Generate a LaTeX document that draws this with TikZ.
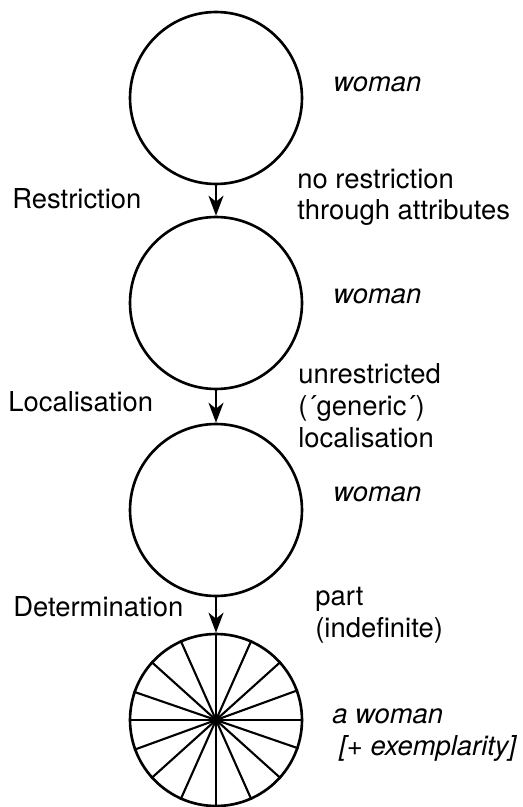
\documentclass[tikz,border=0pt]{standalone}
\usepackage{fontspec}
\setmainfont{TeX Gyre Heros}
\usetikzlibrary{arrows.meta}

\begin{document}
\begin{tikzpicture}[x=0.02cm,y=-0.02cm,
    set/.style={draw, circle, line width=1.5pt, minimum size=3.44cm, inner sep=0pt},
    lbl/.style={anchor=base west, inner sep=0pt, align=left,
      font=\fontsize{15.6}{18.2}\selectfont},
    itlbl/.style={lbl, font=\fontsize{15.6}{18.2}\selectfont\itshape},
    down/.style={line width=1.2pt, -{Stealth[length=4mm,width=3mm,inset=1.2mm]}}]
      \useasboundingbox (0,0) rectangle (523,807);
      \node (1) at (216,98) [set] {};
      \node (2) at (216,303) [set] {};
      \node (3) at (216,510) [set] {};
      \node (4) at (216,720) [set] {};
      \coordinate (b) at (216,807);

      % spokes of the last set
      \foreach \a/\b in {0/180,20/200,42/222,66/246,114/294,138/318,161/341}
        \draw[line width=1.2pt] (4.\a) -- (4.\b);

      \draw[down] (1) to (2.north);
      \draw[down] (2) to (3.north);
      \draw[down] (3) to (4.north);
      \draw[line width=1.2pt] (4.north) -- (b);

      \node (r) at (12,209) [lbl] {Restriction};
      \node (l) at (8,411) [lbl] {Localisation};
      \node (d) at (13,616) [lbl] {Determination};

      % base of a multi-line node is its last line
      \node (w1) at (333,92) [itlbl] {woman};
      \node (nr) at (297,220) [lbl] {no restriction\\through attributes};
      \node (w2) at (333,303) [itlbl] {woman};
      \node (ur) at (298,447) [lbl] {unrestricted\\(´generic´)\\localisation};
      \node (w3) at (333,501) [itlbl] {woman};
      \node (p) at (315,637) [lbl] {part\\(indefinite)};
      \node (aw) at (332,755) [itlbl] {a woman\\\hspace*{.14cm}[+ exemplarity]};
    \end{tikzpicture}
\end{document}
